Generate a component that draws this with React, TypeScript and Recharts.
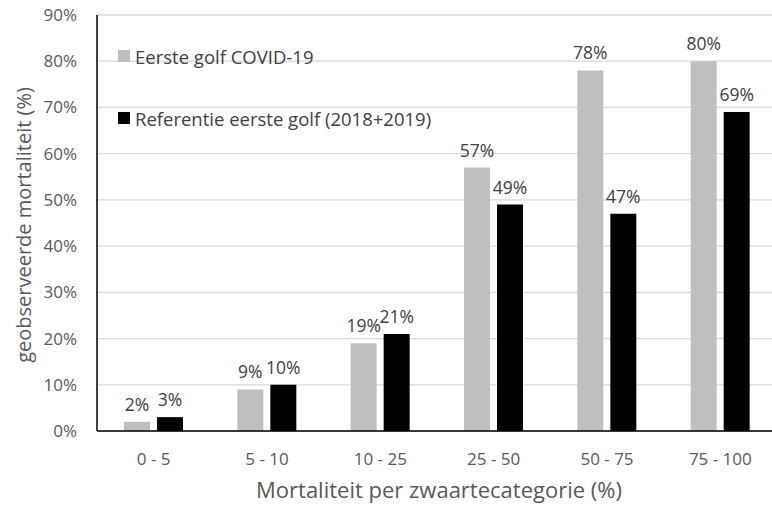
import React from "react";
import { BarChart, Bar, XAxis, YAxis, CartesianGrid, Legend, LabelList, Label } from "recharts";

const categories = ["0 - 5", "5 - 10", "10 - 25", "25 - 50", "50 - 75", "75 - 100"];
const covid = [2, 9, 19, 57, 78, 80];
const reference = [3, 10, 21, 49, 47, 69];
const yTicks = [0, 10, 20, 30, 40, 50, 60, 70, 80, 90];

const seriesNames = ["Eerste golf COVID-19", "Referentie eerste golf (2018+2019)"];
const colors = ["#bfbfbf", "#000000"];

const data = categories.map((c, i) => ({ cat: c, covid: covid[i], baseline: reference[i] }));

const FONT = "'Open Sans', 'Noto Sans', sans-serif";

const LegendContent = () => (
  <div style={{ fontFamily: FONT, fontSize: 18.5, color: "#404040" }}>
    {seriesNames.map((n, i) => (
      <div key={n} style={{ display: "flex", alignItems: "center", height: 24, marginBottom: i === 0 ? 38 : 0, whiteSpace: "nowrap" }}>
        <span style={{ display: "inline-block", width: 12, height: 12, background: colors[i], marginRight: 5 }} />
        <span>{n}</span>
      </div>
    ))}
  </div>
);

export default function App() {
  return (
    <div style={{ position: "absolute", left: 0, top: 0, width: 772, height: 505, overflow: "hidden", background: "#fff" }}>
      <BarChart
        width={790}
        height={505}
        data={data}
        margin={{ top: 15, right: 13, left: 0, bottom: 0 }}
        barGap={7}
        barSize={26}
      >
        <CartesianGrid vertical={false} stroke="#d9d9d9" strokeWidth={1.3} />
        <XAxis
          dataKey="cat"
          height={74}
          tickLine={false}
          axisLine={{ stroke: "#000", strokeWidth: 1.5 }}
          tick={{ fill: "#595959", fontSize: 17, fontFamily: FONT }}
          tickSize={0}
          tickMargin={22}
        >
          <Label
            content={({ viewBox }: any) => (
              <text
                x={viewBox.x + viewBox.width / 2 + 2}
                y={489}
                textAnchor="middle"
                dominantBaseline="central"
                fill="#595959"
                fontSize={22}
                fontFamily={FONT}
              >
                Mortaliteit per zwaartecategorie (%)
              </text>
            )}
          />
        </XAxis>
        <YAxis
          width={97}
          domain={[0, 90]}
          ticks={yTicks}
          interval={0}
          tickFormatter={(v: number) => `${v}%`}
          tickLine={false}
          axisLine={{ stroke: "#000", strokeWidth: 1.5 }}
          tick={{ fill: "#595959", fontSize: 17, fontFamily: FONT }}
          tickSize={0}
          tickMargin={20}
        >
          <Label
            content={() => (
              <text
                x={23}
                y={225}
                transform="rotate(-90 23 225)"
                textAnchor="middle"
                dominantBaseline="central"
                fill="#595959"
                fontSize={20}
                fontFamily={FONT}
              >
                geobserveerde mortaliteit (%)
              </text>
            )}
          />
        </YAxis>
        <Legend
          layout="vertical"
          align="center"
          verticalAlign="middle"
          content={<LegendContent />}
          wrapperStyle={{ left: 118, top: 44, width: 420 }}
        />
        <Bar dataKey="covid" name={seriesNames[0]} fill={colors[0]} isAnimationActive={false}>
          <LabelList
            dataKey="covid"
            position="top"
            offset={11}
            formatter={(v: number) => `${v}%`}
            style={{ fill: "#404040", fontSize: 17.5, fontFamily: FONT }}
          />
        </Bar>
        <Bar dataKey="baseline" name={seriesNames[1]} fill={colors[1]} isAnimationActive={false}>
          <LabelList
            dataKey="baseline"
            position="top"
            offset={11}
            formatter={(v: number) => `${v}%`}
            style={{ fill: "#404040", fontSize: 17.5, fontFamily: FONT }}
          />
        </Bar>
      </BarChart>
    </div>
  );
}
